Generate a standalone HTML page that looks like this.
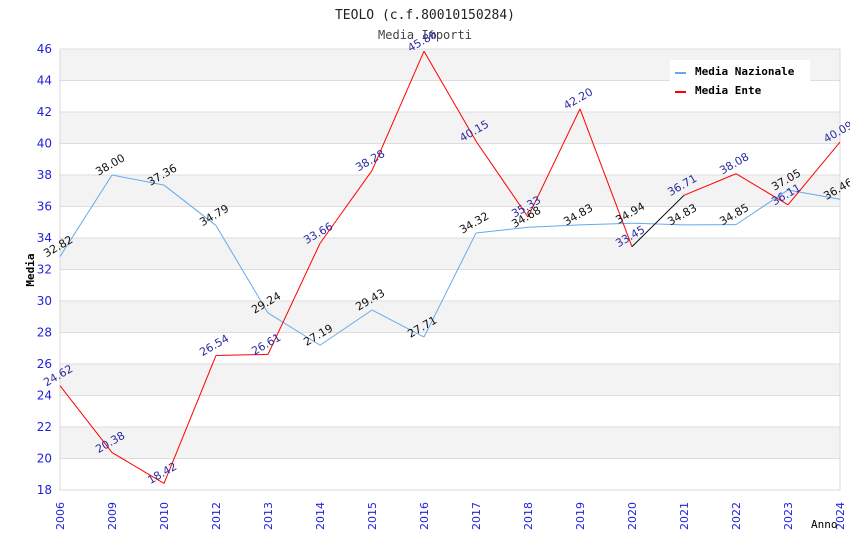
<!DOCTYPE html>
<html><head><meta charset="utf-8"><style>
body{margin:0;background:#fff;width:850px;height:550px;overflow:hidden}
text{font-family:"DejaVu Sans","Liberation Sans",sans-serif}
.mono{font-family:"DejaVu Sans Mono","Liberation Mono",monospace}
</style></head><body>
<svg id="chart" width="850" height="550" xmlns="http://www.w3.org/2000/svg">
<text class="mono" x="425" y="19" text-anchor="middle" font-size="13" fill="#222">TEOLO (c.f.80010150284)</text>
<text class="mono" x="425" y="39" text-anchor="middle" font-size="12" fill="#444">Media Importi</text>
<g id="grid"></g>
<g id="axes"></g>
<g id="series"></g>
<g id="labels"></g>
<text class="mono" transform="translate(34,270) rotate(-90)" text-anchor="middle" font-size="11" font-weight="bold" fill="#000">Media</text>
<text class="mono" x="811" y="528" font-size="11" fill="#000">Anno</text>
<g>
<rect x="670" y="60" width="140" height="40" fill="#fff"/>
<rect x="675" y="72" width="11" height="2" fill="#66aaee"/>
<text class="mono" x="695" y="75" font-size="11" font-weight="bold" fill="#000">Media Nazionale</text>
<rect x="675" y="91" width="11" height="2" fill="#ff0000"/>
<text class="mono" x="695" y="94" font-size="11" font-weight="bold" fill="#000">Media Ente</text>
</g>
</svg>
<script>
const years=["2006","2009","2010","2012","2013","2014","2015","2016","2017","2018","2019","2020","2021","2022","2023","2024"];
const nazionale=[32.82,38.00,37.36,34.79,29.24,27.19,29.43,27.71,34.32,34.68,34.83,34.94,34.83,34.85,37.05,36.46];
const ente=[24.62,20.38,18.42,26.54,26.61,33.66,38.28,45.86,40.15,35.33,42.20,33.45,36.71,38.08,36.11,40.09];
const yTicks=[18,20,22,24,26,28,30,32,34,36,38,40,42,44,46];
const NS="http://www.w3.org/2000/svg";
const L=60,R=840,T=49,B=490,yMin=18,yMax=46;
function xs(i){return L+i*(R-L)/(years.length-1);}
function ys(v){return B-(v-yMin)/(yMax-yMin)*(B-T);}
function mk(tag,attrs,parent){const e=document.createElementNS(NS,tag);for(const k in attrs)e.setAttribute(k,attrs[k]);document.getElementById(parent).appendChild(e);return e;}
for(let i=0;i<yTicks.length-1;i++){
  const r=mk('rect',{x:L,y:ys(yTicks[i+1]),width:R-L,height:ys(yTicks[i])-ys(yTicks[i+1]),fill:(i%2===1?'#f3f3f3':'#ffffff')},'grid');
  
  
}
yTicks.forEach(t=>{
  const l=mk('line',{x1:L,x2:R,y1:ys(t),y2:ys(t),stroke:'#dddddd'},'grid');
  
  
  const tx=mk('text',{x:L-8,y:ys(t)+4,'text-anchor':'end','font-size':12,fill:'#2222dd'},'axes');
  tx.textContent=t;
  
  
});
const ax=mk('path',{d:`M${L},${T}V${B}H${R}V${T}`,fill:'none',stroke:'#d8d8d8'},'axes');


years.forEach((y,i)=>{
  const tx=mk('text',{transform:`translate(${xs(i)+4},${B+40}) rotate(-90)`,'font-size':11,fill:'#2222dd'},'axes');
  tx.textContent=y;
  
  
});
function drawSeries(vals,color,name,labelColor){
  for(let i=0;i<vals.length-1;i++){
    const c=(name==='ente'&&i===11)?'#000':color;
    const s=mk('line',{x1:xs(i),y1:ys(vals[i]),x2:xs(i+1),y2:ys(vals[i+1]),stroke:c,'stroke-width':1},'series');
    
    
  }
  vals.forEach((v,i)=>{
    const tx=mk('text',{transform:`translate(${xs(i)},${ys(v)-7}) rotate(-30)`,'text-anchor':'middle','font-size':11,fill:labelColor},'labels');
    tx.textContent=v.toFixed(2);
    
    
  });
}
drawSeries(nazionale,'#66aaee','nazionale','#111');
drawSeries(ente,'#ff0000','ente','#2a2aa0');
</script>
</body></html>
